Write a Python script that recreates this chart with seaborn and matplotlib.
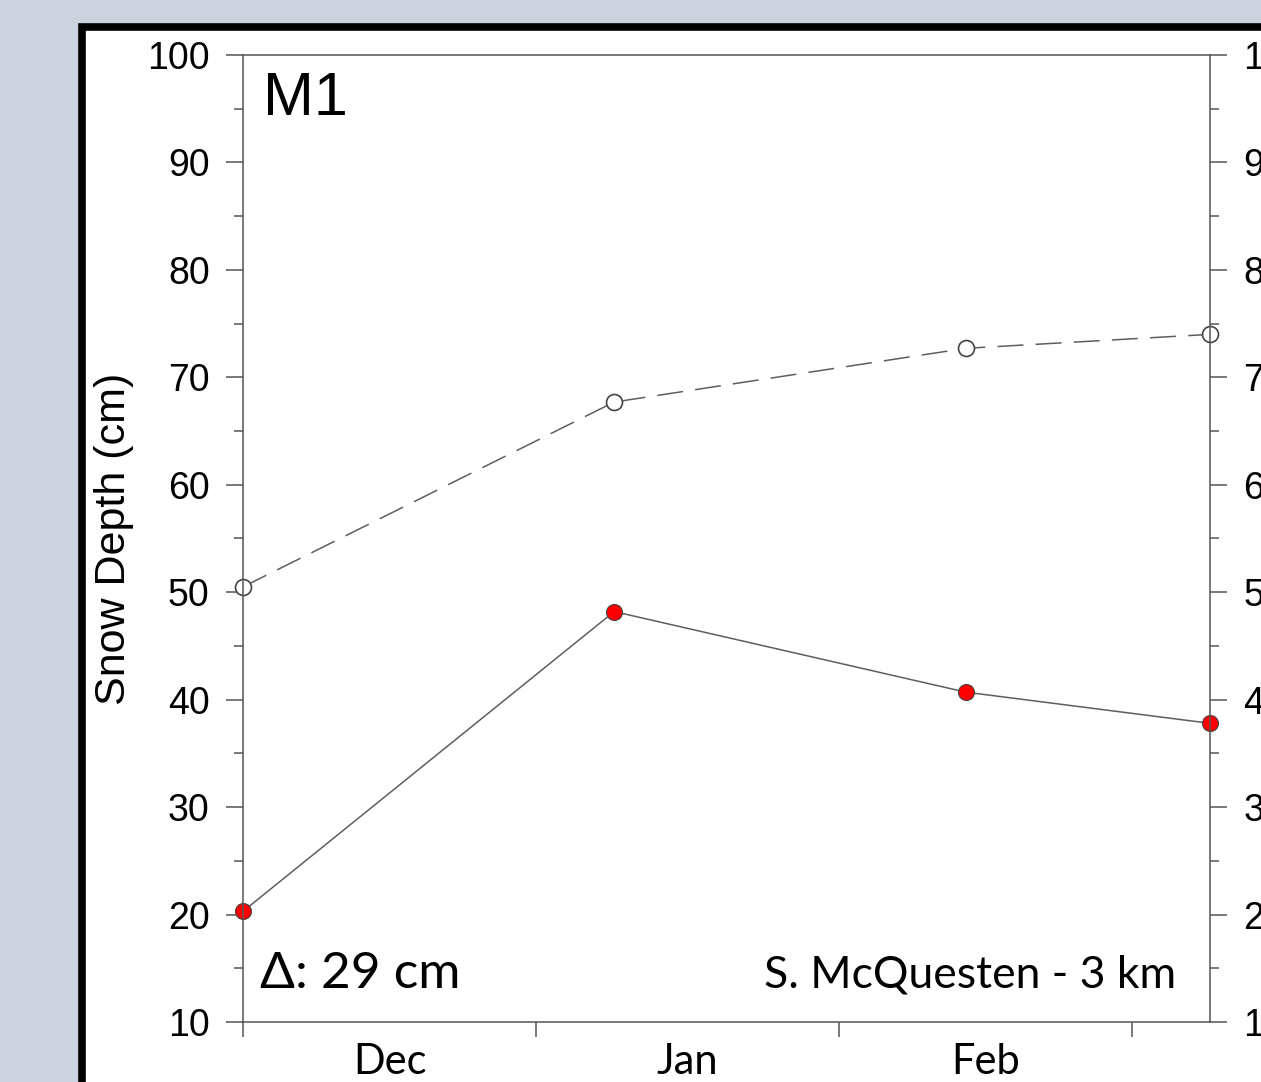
import numpy as np
import pandas as pd
import matplotlib
matplotlib.use("Agg")
import matplotlib.pyplot as plt
from matplotlib.patches import Rectangle
import seaborn as sns

# survey days counted from Dec 1
days = [0, 38, 74, 99]
normal_depth = [50.5, 67.7, 72.7, 74.0]   # open circles, dashed
year_depth = [20.3, 48.2, 40.7, 37.8]     # red dots, solid
month_edges = [0, 30, 61, 91]
month_mid = [15, 45.5, 76]
month_names = ["Dec", "Jan", "Feb"]
y_ticks = [10, 20, 30, 40, 50, 60, 70, 80, 90, 100]

df = pd.DataFrame({"day": days, "normal": normal_depth, "year": year_depth})

sns.set_style("ticks")
plt.rcParams["font.family"] = ["Liberation Sans", "DejaVu Sans"]
plt.rcParams["text.color"] = "black"
plt.rcParams["axes.labelcolor"] = "black"
plt.rcParams["xtick.labelcolor"] = "black"
plt.rcParams["ytick.labelcolor"] = "black"

fig = plt.figure(figsize=(12.61, 10.82), dpi=100, facecolor="#cdd3de")

# white slide panel with thick black border
fig.patches.append(Rectangle((82 / 1261, -0.1), 1.2, 1 - 27 / 1082 + 0.1,
                             transform=fig.transFigure, facecolor="white",
                             edgecolor="black", linewidth=5.5, zorder=-5))

ax = fig.add_axes([243 / 1261, 1 - 1022 / 1082, 967 / 1261, 967 / 1082])
ax.set_facecolor("white")

line_col = "#5e5e5e"
sns.lineplot(data=df, x="day", y="normal", ax=ax, color=line_col, linewidth=1.1,
             dashes=False, marker="o", markersize=11.5, markerfacecolor="white",
             markeredgecolor="#444444", markeredgewidth=1.2, clip_on=False)
ax.lines[-1].set_dashes((17, 8))
sns.lineplot(data=df, x="day", y="year", ax=ax, color=line_col, linewidth=1.1,
             marker="o", markersize=11.5, markerfacecolor="red",
             markeredgecolor="#444444", markeredgewidth=0.8, clip_on=False)

ax.set_xlim(0, 99)
ax.set_ylim(10, 100)
ax.set_xlabel("")
ax.set_ylabel("Snow Depth (cm)", fontsize=31)
ax.yaxis.set_label_coords(-0.113, 0.5)

for s in ax.spines.values():
    s.set_color("#555555")
    s.set_linewidth(1.1)
    s.set_visible(True)

ax.set_yticks(y_ticks)
ax.set_yticks(np.arange(15, 100, 10), minor=True)
ax.tick_params(axis="y", which="major", direction="out", length=12, width=1.1,
               color="#555555", labelsize=27, pad=12)
ax.tick_params(axis="y", which="minor", direction="out", length=6.5, width=1.1,
               color="#555555")

ax.set_xticks(month_edges)
ax.set_xticklabels([])
ax.set_xticks(month_mid, minor=True)
ax.set_xticklabels(month_names, minor=True, fontsize=30, family="Lato")
ax.tick_params(axis="x", which="major", direction="out", length=11, width=1.1,
               color="#555555")
ax.tick_params(axis="x", which="minor", length=0, pad=15)

# right axis, labels run off the slide edge
ax2 = ax.twinx()
ax2.set_ylim(10, 100)
ax2.set_yticks(y_ticks)
ax2.set_yticks(np.arange(15, 100, 10), minor=True)
ax2.tick_params(axis="y", which="major", direction="out", length=12, width=1.1,
                color="#555555", labelsize=27, pad=12)
ax2.tick_params(axis="y", which="minor", direction="out", length=6.5, width=1.1,
                color="#555555")
for s in ax2.spines.values():
    s.set_visible(False)

ax.text(2.0, 94.4, "M1", fontsize=44, va="baseline", ha="left")
ax.text(1.7, 13.2, "\u0394: 29 cm", fontsize=37, va="baseline", ha="left",
        family="Lato")
ax.text(95.5, 13.2, "S. McQuesten - 3 km", fontsize=32, va="baseline",
        ha="right", family="Lato")

fig.savefig("out.png", dpi=100, facecolor=fig.get_facecolor())
